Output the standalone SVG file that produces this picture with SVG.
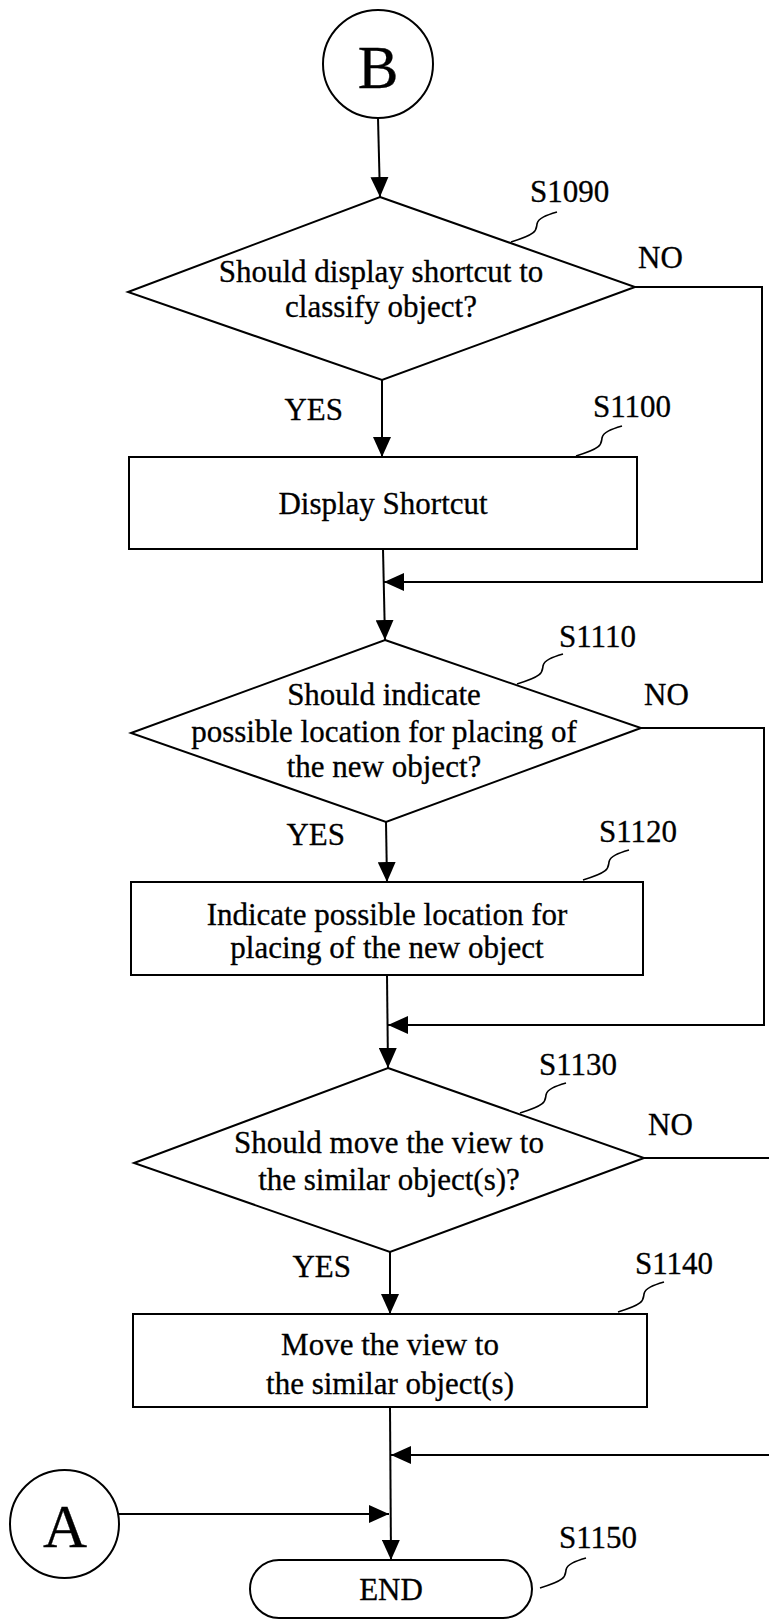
<svg xmlns="http://www.w3.org/2000/svg" width="769" height="1620" viewBox="0 0 769 1620">
<defs>
<style>
.s{fill:#fff;stroke:#000;stroke-width:2}
.c{fill:none;stroke:#000;stroke-width:2}
.lead{fill:none;stroke:#000;stroke-width:1.6}
text{font-family:"Liberation Serif","Times New Roman",serif;fill:#000;font-size:31px;stroke:#000;stroke-width:0.3}
.m{text-anchor:middle}
.big{font-size:61px}
</style>
<marker id="ah" markerWidth="20" markerHeight="18" refX="20" refY="9" orient="auto" markerUnits="userSpaceOnUse">
<path d="M0,0 L20,9 L0,18 Z" fill="#000"/>
</marker>
<path id="sq" d="M0,0 C-10,3 -19,6 -20,12 C-21,18 -19,22 -46,30"/>
</defs>
<rect width="769" height="1620" fill="#fff"/>

<g id="connectors">
<line class="c" x1="378" y1="118" x2="380" y2="197" marker-end="url(#ah)"/>
<line class="c" x1="382" y1="380" x2="382" y2="457" marker-end="url(#ah)"/>
<line class="c" x1="383" y1="549" x2="385" y2="640" marker-end="url(#ah)"/>
<polyline class="c" points="635,287 762,287 762,582 384,582" marker-end="url(#ah)"/>
<line class="c" x1="386" y1="822" x2="387" y2="882" marker-end="url(#ah)"/>
<line class="c" x1="387" y1="975" x2="388" y2="1068" marker-end="url(#ah)"/>
<polyline class="c" points="641,728 764,728 764,1025 388,1025" marker-end="url(#ah)"/>
<line class="c" x1="390" y1="1252" x2="390" y2="1314" marker-end="url(#ah)"/>
<line class="c" x1="390" y1="1407" x2="391" y2="1560" marker-end="url(#ah)"/>
<line class="c" x1="644" y1="1158" x2="775" y2="1158"/>
<line class="c" x1="775" y1="1455" x2="391" y2="1455" marker-end="url(#ah)"/>
<line class="c" x1="119" y1="1514" x2="389" y2="1514" marker-end="url(#ah)"/>
<text x="343" y="420" text-anchor="end">YES</text>
<text x="638" y="268">NO</text>
<text x="345" y="845" text-anchor="end">YES</text>
<text x="644" y="705">NO</text>
<text x="351" y="1277" text-anchor="end">YES</text>
<text x="648" y="1135">NO</text>
</g>

<g id="B">
<ellipse class="s" cx="378" cy="64" rx="55" ry="54"/>
<text class="m big" x="378" y="88">B</text>
</g>

<g id="S1090">
<polygon class="s" points="380,197 635,287 382,380 128,292"/>
<text class="m" x="381" y="282">Should display shortcut to</text>
<text class="m" x="381" y="317">classify object?</text>
<text x="530" y="202">S1090</text>
<use href="#sq" class="lead" x="557" y="212"/>
</g>

<g id="S1100">
<rect class="s" x="129" y="457" width="508" height="92"/>
<text class="m" x="383" y="514">Display Shortcut</text>
<text x="593" y="417">S1100</text>
<use href="#sq" class="lead" x="622" y="426"/>
</g>

<g id="S1110">
<polygon class="s" points="385,640 641,728 386,822 131,733"/>
<text class="m" x="384" y="705">Should indicate</text>
<text class="m" x="384" y="742">possible location for placing of</text>
<text class="m" x="384" y="777">the new object?</text>
<text x="559" y="647">S1110</text>
<use href="#sq" class="lead" x="563" y="654"/>
</g>

<g id="S1120">
<rect class="s" x="131" y="882" width="512" height="93"/>
<text class="m" x="387" y="925">Indicate possible location for</text>
<text class="m" x="387" y="958">placing of the new object</text>
<text x="599" y="842">S1120</text>
<use href="#sq" class="lead" x="629" y="850"/>
</g>

<g id="S1130">
<polygon class="s" points="388,1068 644,1158 390,1252 134,1163"/>
<text class="m" x="389" y="1153">Should move the view to</text>
<text class="m" x="389" y="1190">the similar object(s)?</text>
<text x="539" y="1075">S1130</text>
<use href="#sq" class="lead" x="566" y="1083"/>
</g>

<g id="S1140">
<rect class="s" x="133" y="1314" width="514" height="93"/>
<text class="m" x="390" y="1355">Move the view to</text>
<text class="m" x="390" y="1394">the similar object(s)</text>
<text x="635" y="1274">S1140</text>
<use href="#sq" class="lead" x="664" y="1282"/>
</g>

<g id="A">
<ellipse class="s" cx="64.5" cy="1524" rx="54.5" ry="54"/>
<text class="m big" x="65" y="1547">A</text>
</g>

<g id="S1150">
<rect class="s" x="250" y="1560" width="282" height="58" rx="29" ry="29"/>
<text class="m" x="391" y="1600">END</text>
<text x="559" y="1548">S1150</text>
<use href="#sq" class="lead" x="586" y="1558"/>
</g>
</svg>
